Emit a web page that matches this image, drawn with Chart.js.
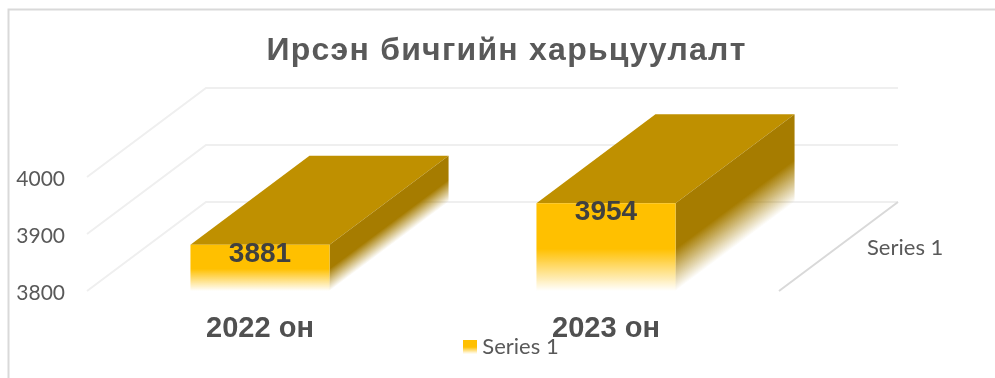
<!DOCTYPE html>
<html><head><meta charset="utf-8">
<style>html,body{margin:0;padding:0;background:#fff;overflow:hidden;width:995px;height:378px}canvas{display:block}</style>
<script src="https://cdn.jsdelivr.net/npm/chart.js@4/dist/chart.umd.min.js"></script>
</head><body>
<canvas id="c" width="1013" height="378"></canvas>
<script>
const chartTitle = 'Ирсэн бичгийн харьцуулалт';
const categories = ['2022 он', '2023 он'];
const seriesName = 'Series 1';
const seriesValues = [3881, 3954];
const axisMin = 3800, axisMax = 4000, axisStep = 100;

const DEPTH_X = 119, DEPTH_Y = -89, PLOT_BOTTOM = 291;
const FRONT = '#FFC000', TOP = '#BF9000', SIDE = '#A67C00';

function fade(ctx, y0, y1, color, solidStop) {
  const g = ctx.createLinearGradient(0, y0, 0, y1);
  const m = color === FRONT ? '255,192,0' : '166,124,0';
  g.addColorStop(0, color);
  g.addColorStop(solidStop, color);
  g.addColorStop(1, 'rgba(' + m + ',0)');
  return g;
}

function legendSwatch() {
  const cv = document.createElement('canvas');
  cv.width = 14; cv.height = 14;
  const c = cv.getContext('2d');
  c.fillStyle = fade(c, 0, 14, FRONT, 0.52);
  c.fillRect(0, 0, 14, 14);
  return cv;
}

function wrapDraw(box, before) {
  const orig = box.draw;
  box.draw = function () {
    const c = this.ctx;
    c.save();
    before(c);
    orig.call(this);
    c.restore();
  };
}

const scene3d = {
  id: 'scene3d',
  afterLayout(chart) {
    const a = chart.chartArea;
    a.bottom = PLOT_BOTTOM;
    a.h = a.bottom - a.top;
    [chart.scales.y, chart.scales.depth].forEach(s => {
      s.bottom = PLOT_BOTTOM;
      s.height = s.bottom - s.top;
      s.configure();
    });
    const x = chart.scales.x;
    x.top = PLOT_BOTTOM;
    x.bottom = PLOT_BOTTOM + x.height;
    x.configure();
  },
  beforeDraw(chart) {
    const ctx = chart.ctx;
    ctx.save();
    ctx.strokeStyle = '#D9D9D9';
    ctx.lineWidth = 2;
    ctx.beginPath();
    ctx.moveTo(8.5, chart.height);
    ctx.lineTo(8.5, 9.5);
    ctx.lineTo(chart.width, 9.5);
    ctx.stroke();
    ctx.restore();
    if (!chart.$patched) {
      chart.$patched = true;
      wrapDraw(chart.titleBlock, c => { c.letterSpacing = '1.25px'; });
      wrapDraw(chart.legend, c => { c.translate(7.5, -1.5); });
    }
  },
  beforeDatasetsDraw(chart) {
    const ctx = chart.ctx, a = chart.chartArea, y = chart.scales.y;
    ctx.save();
    ctx.strokeStyle = '#EFEFEF';
    ctx.lineWidth = 2;
    y.ticks.forEach(t => {
      const py = y.getPixelForValue(t.value);
      ctx.beginPath();
      ctx.moveTo(a.left, py);
      ctx.lineTo(a.left + DEPTH_X, py + DEPTH_Y);
      ctx.lineTo(a.right + DEPTH_X, py + DEPTH_Y);
      ctx.stroke();
    });
    ctx.strokeStyle = '#D9D9D9';
    ctx.beginPath();
    ctx.moveTo(a.right, a.bottom);
    ctx.lineTo(a.right + DEPTH_X, a.bottom + DEPTH_Y);
    ctx.stroke();
    chart.getDatasetMeta(0).data.forEach(bar => {
      const l = bar.x - bar.width / 2, r = bar.x + bar.width / 2, t = bar.y, b = bar.base;
      ctx.fillStyle = TOP;
      ctx.beginPath();
      ctx.moveTo(l, t);
      ctx.lineTo(l + DEPTH_X, t + DEPTH_Y);
      ctx.lineTo(r + DEPTH_X, t + DEPTH_Y);
      ctx.lineTo(r, t);
      ctx.closePath();
      ctx.fill();
      ctx.save();
      const k = DEPTH_Y / DEPTH_X;
      ctx.transform(1, k, 0, 1, 0, -k * r);
      ctx.fillStyle = fade(ctx, t, b, SIDE, 0.52);
      ctx.fillRect(r, t, DEPTH_X, b - t);
      ctx.restore();
    });
    ctx.restore();
  },
  afterDatasetsDraw(chart) {
    const ctx = chart.ctx;
    ctx.save();
    ctx.font = 'bold 28px "Liberation Sans", Arial, sans-serif';
    ctx.fillStyle = '#404040';
    ctx.textAlign = 'center';
    ctx.textBaseline = 'middle';
    chart.getDatasetMeta(0).data.forEach((bar, i) => {
      ctx.fillText(String(seriesValues[i]), bar.x, bar.y + 9);
    });
    ctx.restore();
  }
};

new Chart(document.getElementById('c'), {
  type: 'bar',
  data: {
    labels: categories,
    datasets: [{
      label: seriesName,
      data: seriesValues,
      base: axisMin,
      borderWidth: 0,
      categoryPercentage: 0.402,
      barPercentage: 1,
      backgroundColor(c) {
        const y = c.chart.scales.y;
        if (!y || c.raw === undefined) return FRONT;
        return fade(c.chart.ctx, y.getPixelForValue(c.raw), y.getPixelForValue(axisMin), FRONT, 0.52);
      }
    }]
  },
  plugins: [scene3d],
  options: {
    responsive: false,
    animation: false,
    layout: { autoPadding: false, padding: 0 },
    plugins: {
      tooltip: { enabled: false },
      title: {
        display: true,
        text: chartTitle,
        color: '#595959',
        font: { family: '"Liberation Sans", Arial, sans-serif', size: 32, weight: 'bold' },
        padding: { top: 32, bottom: 106.6 }
      },
      legend: {
        display: true,
        position: 'bottom',
        labels: {
          color: '#595959',
          font: { family: 'Lato, "Open Sans", sans-serif', size: 22, lineHeight: 1 },
          usePointStyle: true,
          pointStyleWidth: 2,
          padding: 0.5,
          generateLabels() {
            return [{ text: seriesName, pointStyle: legendSwatch(), fillStyle: FRONT, strokeStyle: 'rgba(0,0,0,0)', lineWidth: 0, fontColor: '#595959', datasetIndex: 0 }];
          }
        }
      }
    },
    scales: {
      x: {
        grid: { display: false },
        border: { display: false },
        ticks: {
          color: '#505050', padding: 13, maxRotation: 0,
          font: { family: '"Liberation Sans", Arial, sans-serif', size: 29, weight: 'bold' }
        },
        afterFit(s) { s.height = 60; }
      },
      y: {
        min: axisMin, max: axisMax,
        grid: { display: false, drawTicks: false },
        border: { display: false },
        ticks: {
          stepSize: axisStep, padding: 22, labelOffset: 2, color: '#595959',
          format: { useGrouping: false },
          font: { family: 'Lato, "Open Sans", sans-serif', size: 21 }
        },
        afterFit(s) { s.width = 87; }
      },
      depth: {
        type: 'category', axis: 'y', position: 'right',
        labels: [seriesName],
        offset: true,
        grid: { display: false, drawTicks: false },
        border: { display: false },
        ticks: {
          padding: 88, labelOffset: 14, color: '#595959',
          font: { family: 'Lato, "Open Sans", sans-serif', size: 22 }
        },
        afterFit(s) { s.width = 234; }
      }
    }
  }
});
</script>
</body></html>
